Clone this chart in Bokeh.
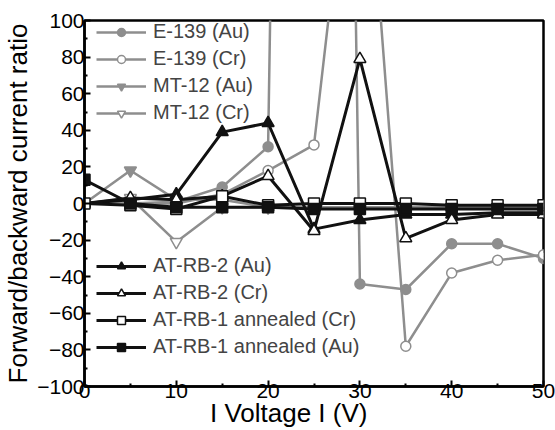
from bokeh.plotting import figure
from bokeh.models import Legend, LegendItem, Range1d, FixedTicker
from bokeh.embed import file_html
from bokeh.resources import INLINE

voltage = [0, 5, 10, 15, 20, 25, 30, 35, 40, 45, 50]
e139_au = [0, 0, 1, 9, 31, 1600, -44, -47, -22, -22, -30]
e139_cr = [0, 0, 0, 5, 18, 32, 250, -78, -38, -31, -28]
mt12_au = [0, 18, 2, 2, -2, -2, -2, -2, -2, -2, -2]
mt12_cr = [0, 3, -21, -2, -2, -2, -2, -2, -2, -2, -2]
atrb2_au = [0, 2, 5, 39, 44, -14, -9, -6, -6, -5, -5]
atrb2_cr = [0, 3, 2, 4, 15, -15, 79, -19, -9, -6, -6]
atrb1_cr = [0, -1, -3, 4, -1, 0, 0, 0, -1, -1, -1]
atrb1_au = [13, 0, -2, -2, -2, -3, -3, -3, -3, -3, -3]

x_ticks = [0, 10, 20, 30, 40, 50]
y_ticks = [-100, -80, -60, -40, -20, 0, 20, 40, 60, 80, 100]

FONT = "Liberation Sans"
GREY = "#8e8e8e"
BLACK = "#111111"

p = figure(width=555, height=430, output_backend="svg", toolbar_location=None,
           x_range=Range1d(0, 50), y_range=Range1d(-100, 100),
           min_border_left=83, min_border_right=12, min_border_top=20, min_border_bottom=43)
p.grid.visible = False
p.outline_line_color = "black"
p.outline_line_width = 2.5
p.background_fill_color = "white"
p.border_fill_color = "white"

for ax in (p.xaxis[0], p.yaxis[0]):
    ax.axis_line_width = 2.5
    ax.axis_line_color = "black"
    ax.major_tick_in = 6
    ax.major_tick_out = 0
    ax.minor_tick_in = 3
    ax.minor_tick_out = 0
    ax.major_tick_line_width = 2
    ax.minor_tick_line_width = 2
    ax.major_label_text_font = FONT
    ax.major_label_text_font_size = "21px"
    ax.major_label_text_color = "black"
    ax.axis_label_text_font = FONT
    ax.axis_label_text_font_size = "26px"
    ax.axis_label_text_font_style = "normal"
    ax.axis_label_text_color = "black"

p.xaxis.major_label_standoff = -3
p.yaxis.major_label_standoff = 0
p.xaxis.ticker = FixedTicker(ticks=x_ticks, minor_ticks=[5, 15, 25, 35, 45])
p.yaxis.ticker = FixedTicker(ticks=y_ticks, minor_ticks=list(range(-90, 100, 20)))
p.yaxis.axis_label = "Forward/backward current ratio"
p.yaxis.axis_label_standoff = 1
# trailing no-break spaces shift the centred label left, as in the reference
p.xaxis.axis_label = "I Voltage I (V)" + "\u00a0" * 7
p.xaxis.axis_label_standoff = -3

series = [
    ("E-139 (Au)", e139_au, GREY, 2.5, "circle", GREY, 10),
    ("E-139 (Cr)", e139_cr, GREY, 2.5, "circle", "white", 10),
    ("MT-12 (Au)", mt12_au, GREY, 2.5, "inverted_triangle", GREY, 12),
    ("MT-12 (Cr)", mt12_cr, GREY, 2.5, "inverted_triangle", "white", 12),
    ("AT-RB-2 (Au)", atrb2_au, BLACK, 3, "triangle", BLACK, 12),
    ("AT-RB-2 (Cr)", atrb2_cr, BLACK, 3, "triangle", "white", 12),
    ("AT-RB-1 annealed (Cr)", atrb1_cr, BLACK, 3, "square", "white", 11),
    ("AT-RB-1 annealed (Au)", atrb1_au, BLACK, 3, "square", BLACK, 11),
]

items = {}
for name, ys, col, lw, mk, fill, sz in series:
    l = p.line(voltage, ys, line_color=col, line_width=lw)
    s = p.scatter(voltage, ys, marker=mk, size=sz, line_color=col, fill_color=fill, line_width=1.5)
    items[name] = LegendItem(label=name, renderers=[l, s])

def make_legend(names, loc):
    lg = Legend(items=[items[n] for n in names], location=loc,
                label_text_font=FONT, label_text_font_size="20px",
                glyph_width=50, glyph_height=20, label_height=20, spacing=4,
                label_standoff=7, padding=0, margin=0,
                background_fill_alpha=0, border_line_alpha=0)
    p.add_layout(lg)

make_legend(["E-139 (Au)", "E-139 (Cr)", "MT-12 (Au)", "MT-12 (Cr)"], (12, 262))
make_legend(["AT-RB-2 (Au)", "AT-RB-2 (Cr)", "AT-RB-1 annealed (Cr)", "AT-RB-1 annealed (Au)"], (12, 28))

open("out.html", "w").write(file_html(p, INLINE))
